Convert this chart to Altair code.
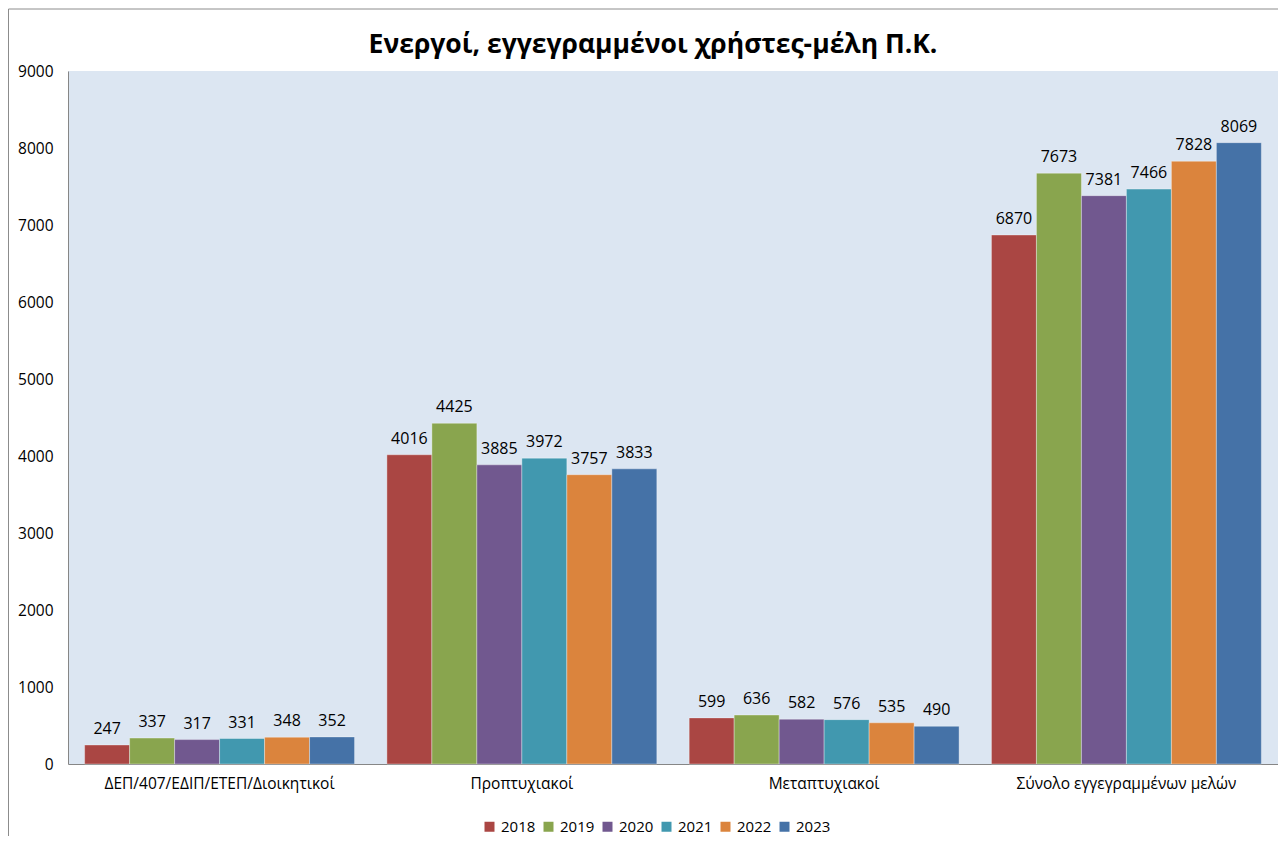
import altair as alt
import pandas as pd

categories = ["ΔΕΠ/407/ΕΔΙΠ/ΕΤΕΠ/Διοικητικοί", "Προπτυχιακοί", "Μεταπτυχιακοί", "Σύνολο εγγεγραμμένων μελών"]
years = ["2018", "2019", "2020", "2021", "2022", "2023"]
v2018 = [247, 4016, 599, 6870]
v2019 = [337, 4425, 636, 7673]
v2020 = [317, 3885, 582, 7381]
v2021 = [331, 3972, 576, 7466]
v2022 = [348, 3757, 535, 7828]
v2023 = [352, 3833, 490, 8069]
colors = ["#AA4643", "#89A54E", "#71588F", "#4198AF", "#DB843D", "#4572A7"]
y_ticks = [0, 1000, 2000, 3000, 4000, 5000, 6000, 7000, 8000, 9000]
title_text = "Ενεργοί, εγγεγραμμένοι χρήστες-μέλη Π.Κ."

series = [v2018, v2019, v2020, v2021, v2022, v2023]
rows = []
for yr, vals in zip(years, series):
    for c, v in zip(categories, vals):
        rows.append({"category": c, "year": yr, "value": v})
df = pd.DataFrame(rows)

FONT = "Open Sans"
W, H = 1210, 693

x_enc = alt.X("category:N", sort=categories,
              scale=alt.Scale(paddingInner=0.107, paddingOuter=0.055),
              axis=alt.Axis(title=None, labelAngle=0, labelFont=FONT, labelFontSize=15.5,
                            labelColor="#000000", labelPadding=12, ticks=False, labelLimit=0,
                            domainColor="#868686", domainWidth=1))
xoff = alt.XOffset("year:N", sort=years, scale=alt.Scale(paddingInner=0, paddingOuter=0))
y_enc = alt.Y("value:Q", scale=alt.Scale(domain=[0, 9000], nice=False),
              axis=alt.Axis(title=None, values=y_ticks, format="d", grid=False, ticks=False,
                            labelFont=FONT, labelFontSize=15.5, labelColor="#000000",
                            labelPadding=15, domainColor="#868686", domainWidth=1))
color_enc = alt.Color("year:N", sort=years,
                      scale=alt.Scale(domain=years, range=colors),
                      legend=alt.Legend(title=None, orient="none", direction="horizontal",
                                        legendX=414, legendY=748, symbolType="square",
                                        symbolSize=100, symbolStrokeWidth=0,
                                        labelFont=FONT, labelFontSize=15, labelColor="#000000",
                                        columnPadding=5, labelOffset=4))

bars = alt.Chart(df).mark_bar(opacity=1, stroke="#ffffff", strokeOpacity=0.35, strokeWidth=1).encode(
    x=x_enc, xOffset=xoff, y=y_enc, color=color_enc)
labels = alt.Chart(df).mark_text(baseline="bottom", dy=-8, font=FONT, fontSize=16, color="#000000").encode(
    x=alt.X("category:N", sort=categories), xOffset=alt.XOffset("year:N", sort=years),
    y="value:Q", text=alt.Text("value:Q", format="d"))

frame_df = pd.DataFrame({"k": [0]})
frame_top = alt.Chart(frame_df).mark_rule(color="#8c8c8c", strokeWidth=1).encode(
    x=alt.value(-59.5), x2=alt.value(W + 20), y=alt.value(-62))
frame_left = alt.Chart(frame_df).mark_rule(color="#8c8c8c", strokeWidth=1).encode(
    x=alt.value(-59.5), y=alt.value(-62), y2=alt.value(H + 80))
title_df = pd.DataFrame({"t": [title_text]})
title = alt.Chart(title_df).mark_text(font=FONT, fontSize=26.5, fontWeight="bold", color="#000000",
                                      align="center", baseline="middle").encode(
    x=alt.value(585), y=alt.value(-26), text="t:N")

chart = alt.layer(frame_top, frame_left, bars, labels, title).properties(
    width=W, height=H,
    autosize=alt.AutoSizeParams(type="none"),
    padding={"left": 60, "top": 63, "right": 0, "bottom": 72},
).configure(background="white").configure_view(fill="#DCE6F2", stroke=None)

chart.save("out.html", embed_options={"renderer": "svg", "actions": False})
